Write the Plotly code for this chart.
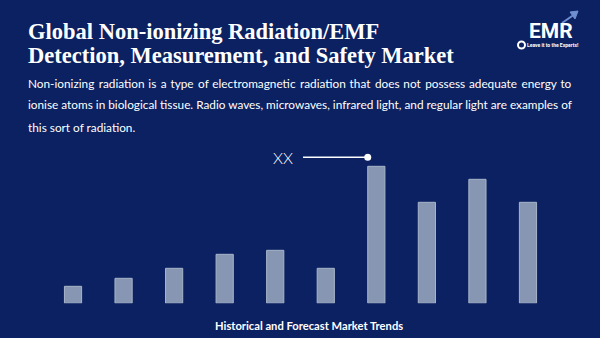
import plotly.graph_objects as go

# ---- data ----
years = ["2018", "2019", "2020", "2021", "2022", "2023", "2024", "2025", "2026", "2027"]
values = [17, 25, 35, 49, 53, 35, 137, 101, 124, 101]
highlight_index = 6
highlight_label = "XX"

title_lines = ["Global Non-ionizing Radiation/EMF",
               "Detection, Measurement, and Safety Market"]
desc_lines = [
    "Non-ionizing radiation is a type of electromagnetic radiation that does not possess adequate energy to",
    "ionise atoms in biological tissue. Radio waves, microwaves, infrared light, and regular light are examples of",
    "this sort of radiation.",
]
caption = "Historical and Forecast Market Trends"

BG = "#0b2161"
BAR = "#8796b2"
BAR_EDGE = "#a8b5ca"
W, H = 600, 338


def justify(line, extra):
    """widen word gaps with hair spaces (approximate justification)"""
    if not extra:
        return line
    words = line.split(" ")
    out = words[0]
    for g, w in enumerate(words[1:]):
        out += " " + "\u200a" * (2 if g % 2 == 0 else 1) + w
    return out


fig = go.Figure()
fig.add_trace(go.Bar(
    x=list(range(len(years))), y=values,
    width=0.34,
    marker=dict(color=BAR, line=dict(color=BAR_EDGE, width=1)),
    hoverinfo="skip", showlegend=False,
    customdata=years,
))

# highlight marker: line + dot near the top-left of the highlighted bar
hx = highlight_index - 0.17
hy = values[highlight_index] + 9
fig.add_trace(go.Scatter(
    x=[hx - 1.28, hx], y=[hy, hy], mode="lines",
    line=dict(color="white", width=1.5), hoverinfo="skip", showlegend=False,
))
fig.add_trace(go.Scatter(
    x=[hx], y=[hy], mode="markers",
    marker=dict(color="white", size=7), hoverinfo="skip", showlegend=False,
))
fig.add_annotation(
    x=hx - 1.44, y=hy, xref="x", yref="y", text=highlight_label,
    showarrow=False, xanchor="right", yanchor="middle",
    font=dict(family="Lato", size=16, color="white", weight=300),
)

annotations = []
# title
for i, t in enumerate(title_lines):
    annotations.append(dict(
        x=26 / W, y=1 - (31 + 24 * i) / H, xref="paper", yref="paper",
        text="<b>" + t + "</b>", showarrow=False, xanchor="left", yanchor="middle",
        font=dict(family="Liberation Serif", size=22.5, color="white"),
    ))
# description
extras = [1, 0, 0]
for i, t in enumerate(desc_lines):
    annotations.append(dict(
        x=26 / W, y=1 - (83 + 22 * i) / H, xref="paper", yref="paper",
        text=justify(t, extras[i]), showarrow=False, xanchor="left", yanchor="middle",
        font=dict(family="Lato", size=11.8, color="white"),
    ))
# caption
annotations.append(dict(
    x=309 / W, y=1 - 325 / H, xref="paper", yref="paper",
    text="<b>" + caption + "</b>", showarrow=False, xanchor="center", yanchor="middle",
    font=dict(family="Lato", size=11.2, color="white"),
))
# logo
annotations.append(dict(
    x=551 / W, y=1 - 31 / H, xref="paper", yref="paper",
    text="<b>EMR</b>", showarrow=False, xanchor="center", yanchor="middle",
    font=dict(family="Roboto", size=21, color="white"),
))
annotations.append(dict(
    x=553 / W, y=1 - 45.5 / H, xref="paper", yref="paper",
    text="<b>Leave it to the Experts!</b>", showarrow=False, xanchor="center", yanchor="middle",
    font=dict(family="Roboto", size=5, color="white"),
))
for a in annotations:
    fig.add_annotation(**a)

shapes = [
    dict(type="circle", xref="paper", yref="paper",
         x0=518 / W, x1=525 / W, y0=1 - 48.5 / H, y1=1 - 41.5 / H,
         line=dict(color="white", width=2)),
    dict(type="line", xref="paper", yref="paper",
         x0=562 / W, x1=575 / W, y0=1 - 23 / H, y1=1 - 14 / H,
         line=dict(color="#6f8fd0", width=2)),
    dict(type="path", xref="paper", yref="paper",
         path=f"M {578/W} {1-11/H} L {570/W} {1-12/H} L {575/W} {1-19/H} Z",
         fillcolor="#6f8fd0", line=dict(color="#6f8fd0", width=1)),
]

n = len(years)
fig.update_layout(
    width=W, height=H,
    margin=dict(l=0, r=0, t=0, b=0),
    paper_bgcolor=BG, plot_bgcolor=BG,
    xaxis=dict(range=[-0.5, n - 0.5], domain=[47.75 / W, 553.25 / W],
               visible=False, fixedrange=True),
    yaxis=dict(range=[0, 150], domain=[(H - 303.3) / H, (H - 153.3) / H],
               visible=False, fixedrange=True),
    shapes=shapes,
    showlegend=False,
)

fig.write_html("out.html", config={"displayModeBar": False})
